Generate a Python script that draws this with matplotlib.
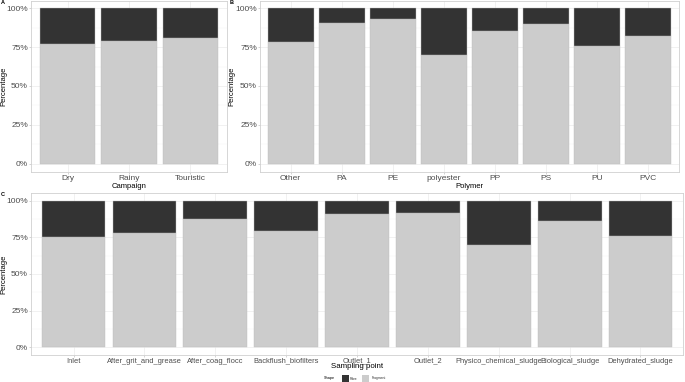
import numpy as np
import matplotlib
matplotlib.use("Agg")
import matplotlib.pyplot as plt
from matplotlib.patches import Rectangle

# fragment share of each group (fibre = remainder)
campaigns = ["Dry", "Rainy", "Touristic"]
campaign_frag = [0.770, 0.789, 0.808]

polymers = ["Other", "PA", "PE", "polyester", "PP", "PS", "PU", "PVC"]
polymer_frag = [0.781, 0.908, 0.934, 0.698, 0.851, 0.898, 0.755, 0.823]

points = ["Inlet", "After_grit_and_grease", "After_coag_flocc", "Backflush_biofilters",
          "Outlet_1", "Outlet_2", "Physico_chemical_sludge", "Biological_sludge",
          "Dehydrated_sludge"]
point_frag = [0.755, 0.777, 0.875, 0.795, 0.909, 0.914, 0.695, 0.864, 0.759]

FIBRE = "#333333"
FRAG = "#cccccc"
W, H = 685, 382

plt.rcParams['font.family'] = ['Liberation Sans', 'DejaVu Sans']
fig = plt.figure(figsize=(W / 100, H / 100), dpi=100)


def px_axes(left, top, right, bottom):
    return fig.add_axes([left / W, (H - bottom) / H, (right - left) / W, (bottom - top) / H])


def panel(ax, cats, frag, xlabel, xtick_size, title_size, box, ylab_x, xlab_y):
    left, top, right, bottom = box
    x = np.arange(len(cats))
    frag = np.array(frag)
    ax.bar(x, frag, width=0.9, color=FRAG, edgecolor="#bdbdbd", linewidth=0.3, zorder=2)
    ax.bar(x, 1 - frag, bottom=frag, width=0.9, color=FIBRE, edgecolor="#bdbdbd",
           linewidth=0.3, zorder=2)
    ax.set_xlim(-0.6, len(cats) - 0.4)
    ax.set_ylim(-0.05, 1.05)
    ax.set_xticks(x)
    ax.set_xticklabels(cats, fontsize=xtick_size, color="#4d4d4d")
    ax.set_yticks([0, 0.25, 0.5, 0.75, 1.0])
    ax.set_yticklabels(["0%", "25%", "50%", "75%", "100%"], fontsize=6, color="#4d4d4d")
    ax.set_yticks([0.125, 0.375, 0.625, 0.875], minor=True)
    ax.grid(True, which="major", color="#ebebeb", linewidth=0.5, zorder=0)
    ax.grid(True, which="minor", axis="y", color="#f4f4f4", linewidth=0.3, zorder=0)
    ax.tick_params(which="both", length=1.2, width=0.4, color="#b3b3b3", pad=1)
    ax.tick_params(which="minor", length=0)
    for s in ax.spines.values():
        s.set_color("#d0d0d0")
        s.set_linewidth(0.6)
    ax.set_xlabel(xlabel, fontsize=title_size)
    ax.set_ylabel("Percentage", fontsize=5.5)
    ax.xaxis.label.set_verticalalignment("center")
    ax.yaxis.label.set_verticalalignment("center")
    ax.xaxis.set_label_coords(0.5, -(xlab_y - bottom) / (bottom - top))
    ax.yaxis.set_label_coords((ylab_x - left) / (right - left), 0.5)


boxA = (31, 0.5, 227, 171.5)
axA = px_axes(*boxA)
panel(axA, campaigns, campaign_frag, "Campaign", 6, 5.5, boxA, 3.5, 186)
boxB = (260, 0.5, 679, 171.5)
axB = px_axes(*boxB)
panel(axB, polymers, polymer_frag, "Polymer", 6, 5.5, boxB, 232, 186)
boxC = (31, 193.3, 683, 354.6)
axC = px_axes(*boxC)
panel(axC, points, point_frag, "Sampling point", 5.4, 5.7, boxC, 3.5, 367)

fig.text(0.5 / W, 1 - 2.5 / H, "A", fontsize=4, fontweight="bold", va="center")
fig.text(230 / W, 1 - 2.5 / H, "B", fontsize=4, fontweight="bold", va="center")
fig.text(1 / W, 1 - 195 / H, "C", fontsize=4, fontweight="bold", va="center")

# legend at the bottom
ly = 1 - 378.5 / H
fig.text(324 / W, ly, "Shape", fontsize=2.8, va="center")
fig.patches.append(Rectangle((341.5 / W, ly - 3.5 / H), 7 / W, 7 / H, transform=fig.transFigure,
                             facecolor=FIBRE, edgecolor="none"))
fig.text(350 / W, ly, "Fibre", fontsize=2.4, va="center", color="#333333")
fig.patches.append(Rectangle((361.5 / W, ly - 3.5 / H), 7 / W, 7 / H, transform=fig.transFigure,
                             facecolor=FRAG, edgecolor="none"))
fig.text(372 / W, ly, "Fragment", fontsize=2.4, va="center", color="#333333")

fig.savefig("out.png", dpi=100)
